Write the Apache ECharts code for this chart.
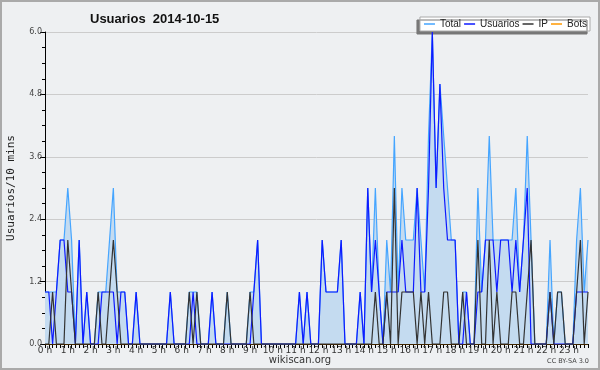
<!DOCTYPE html>
<html>
<head>
<meta charset="utf-8">
<script src="https://cdn.jsdelivr.net/npm/echarts@6/dist/echarts.min.js"></script>
<style>
body { margin: 0; background: #eef0f2; }
#chart { width: 600px; height: 370px; }
</style>
</head>
<body>
<div id="chart"></div>
<script>
var hourLabels = ['0 h', '1 h', '2 h', '3 h', '4 h', '5 h', '6 h', '7 h', '8 h', '9 h', '10 h', '11 h',
    '12 h', '13 h', '14 h', '15 h', '16 h', '17 h', '18 h', '19 h', '20 h', '21 h', '22 h', '23 h'];

// one value per 10 minutes, 144 per day
var total = [
    1, 1, 1, 1, 2, 2, 3, 2, 0, 2, 0, 1,
    0, 0, 1, 1, 1, 2, 3, 1, 1, 1, 0, 0,
    1, 0, 0, 0, 0, 0, 0, 0, 0, 1, 0, 0,
    0, 0, 1, 1, 1, 0, 0, 0, 1, 0, 0, 0,
    1, 0, 0, 0, 0, 0, 1, 1, 2, 0, 0, 0,
    0, 0, 0, 0, 0, 0, 0, 1, 0, 1, 0, 0,
    0, 2, 1, 1, 1, 1, 2, 0, 0, 0, 0, 1,
    0, 3, 1, 3, 1, 0, 2, 1, 4, 1, 3, 2,
    2, 2, 3, 2, 1, 4, 6, 3, 5, 4, 3, 2,
    2, 0, 1, 1, 0, 0, 3, 1, 2, 4, 2, 2,
    2, 2, 2, 2, 3, 1, 2, 4, 2, 0, 0, 0,
    0, 2, 0, 1, 1, 0, 0, 0, 2, 3, 1, 2
];
var usuarios = [
    1, 1, 0, 1, 2, 2, 1, 1, 0, 2, 0, 1,
    0, 0, 0, 1, 1, 1, 1, 0, 1, 1, 0, 0,
    1, 0, 0, 0, 0, 0, 0, 0, 0, 1, 0, 0,
    0, 0, 0, 1, 0, 0, 0, 0, 1, 0, 0, 0,
    0, 0, 0, 0, 0, 0, 0, 1, 2, 0, 0, 0,
    0, 0, 0, 0, 0, 0, 0, 1, 0, 1, 0, 0,
    0, 2, 1, 1, 1, 1, 2, 0, 0, 0, 0, 1,
    0, 3, 1, 2, 1, 0, 1, 1, 1, 1, 2, 1,
    1, 1, 3, 1, 1, 3, 6, 3, 5, 3, 2, 2,
    2, 0, 0, 1, 0, 0, 1, 1, 2, 2, 2, 1,
    2, 2, 2, 1, 2, 1, 2, 3, 0, 0, 0, 0,
    0, 1, 0, 0, 0, 0, 0, 0, 1, 1, 1, 1
];
var ip = [
    0, 0, 1, 0, 0, 0, 2, 1, 0, 0, 0, 0,
    0, 0, 1, 0, 0, 1, 2, 1, 0, 0, 0, 0,
    0, 0, 0, 0, 0, 0, 0, 0, 0, 0, 0, 0,
    0, 0, 1, 0, 1, 0, 0, 0, 0, 0, 0, 0,
    1, 0, 0, 0, 0, 0, 1, 0, 0, 0, 0, 0,
    0, 0, 0, 0, 0, 0, 0, 0, 0, 0, 0, 0,
    0, 0, 0, 0, 0, 0, 0, 0, 0, 0, 0, 0,
    0, 0, 0, 1, 0, 0, 1, 0, 3, 0, 1, 1,
    1, 1, 0, 1, 0, 1, 0, 0, 0, 1, 1, 0,
    0, 0, 1, 0, 0, 0, 2, 0, 0, 2, 0, 1,
    0, 0, 0, 1, 1, 0, 0, 1, 2, 0, 0, 0,
    0, 1, 0, 1, 1, 0, 0, 0, 1, 2, 0, 1
];
var bots = [
    0, 0, 0, 0, 0, 0, 0, 0, 0, 0, 0, 0,
    0, 0, 0, 0, 0, 0, 0, 0, 0, 0, 0, 0,
    0, 0, 0, 0, 0, 0, 0, 0, 0, 0, 0, 0,
    0, 0, 0, 0, 0, 0, 0, 0, 0, 0, 0, 0,
    0, 0, 0, 0, 0, 0, 0, 0, 0, 0, 0, 0,
    0, 0, 0, 0, 0, 0, 0, 0, 0, 0, 0, 0,
    0, 0, 0, 0, 0, 0, 0, 0, 0, 0, 0, 0,
    0, 0, 0, 0, 0, 0, 0, 0, 0, 0, 0, 0,
    0, 0, 0, 0, 0, 0, 0, 0, 0, 0, 0, 0,
    0, 0, 0, 0, 0, 0, 0, 0, 0, 0, 0, 0,
    0, 0, 0, 0, 0, 0, 0, 0, 0, 0, 0, 0,
    0, 0, 0, 0, 0, 0, 0, 0, 0, 0, 0, 0
];

// category per 10 min slot, label only on the hour
var slots = [];
hourLabels.forEach(function (h) {
    slots.push(h);
    for (var k = 0; k < 5; k++) slots.push('');
});

var chart = echarts.init(document.getElementById('chart'));

function lineSeries(name, data, color, z) {
    return {
        name: name,
        type: 'line',
        data: data,
        symbol: 'none',
        z: z,
        lineStyle: { color: color, width: 1.2 },
        itemStyle: { color: color }
    };
}

var totalSeries = lineSeries('Total', total, '#45a5ff', 3);
totalSeries.areaStyle = { color: '#c4dbf0', opacity: 1 };

var option = {
    animation: false,
    backgroundColor: '#eef0f2',
    title: {
        text: 'Usuarios  2014-10-15',
        left: 85,
        top: 8,
        textStyle: { fontFamily: 'Liberation Sans', fontSize: 13, fontWeight: 'bold', color: '#111' }
    },
    legend: {
        data: ['Total', 'Usuarios', 'IP', 'Bots'],
        right: 10,
        top: 17,
        padding: [2, 3, 2, 4],
        itemGap: 3,
        itemWidth: 11,
        itemHeight: 1.5,
        icon: 'rect',
        backgroundColor: '#ffffff',
        borderColor: '#aaaaaa',
        borderWidth: 1,
        shadowColor: '#777777',
        shadowBlur: 0,
        shadowOffsetX: -3,
        shadowOffsetY: 3,
        textStyle: { fontFamily: 'Liberation Sans', fontSize: 10, color: '#222' }
    },
    grid: { left: 45, right: 12, top: 32, bottom: 26, outerBoundsMode: 'none' },
    xAxis: {
        type: 'category',
        boundaryGap: false,
        data: slots,
        axisLine: { lineStyle: { color: '#000', width: 1 } },
        axisTick: { interval: 0, length: 4, lineStyle: { color: '#000' } },
        axisLabel: {
            interval: 0,
            margin: 2,
            fontFamily: 'DejaVu Sans',
            fontSize: 9,
            color: '#333'
        },
        splitLine: { show: false }
    },
    yAxis: {
        type: 'value',
        min: 0,
        max: 6,
        interval: 1.2,
        name: 'Usuarios/10 mins',
        nameLocation: 'middle',
        nameRotate: 90,
        nameGap: 28,
        nameTextStyle: { fontFamily: 'DejaVu Sans Mono', fontSize: 11, color: '#222' },
        axisLine: { show: true, lineStyle: { color: '#000', width: 1 } },
        axisTick: { show: true, length: 5, lineStyle: { color: '#000' } },
        minorTick: { show: true, splitNumber: 4, length: 3, lineStyle: { color: '#000' } },
        axisLabel: {
            margin: 3,
            fontFamily: 'DejaVu Sans',
            fontSize: 8,
            color: '#444',
            formatter: function (v) { return v.toFixed(1); }
        },
        splitLine: { lineStyle: { color: '#cccccc', width: 1 } }
    },
    graphic: [
        {
            type: 'text',
            left: 'center',
            top: 355,
            style: { text: 'wikiscan.org', fontFamily: 'DejaVu Sans', fontSize: 10, fill: '#333' }
        },
        {
            type: 'text',
            right: 11,
            top: 358,
            style: { text: 'CC BY-SA 3.0', fontFamily: 'DejaVu Sans', fontSize: 6.5, fill: '#444' }
        },
        {
            type: 'rect',
            silent: true,
            shape: { x: 1, y: 1, width: 598, height: 368 },
            style: { fill: 'none', stroke: '#aaaaaa', lineWidth: 2 }
        }
    ],
    series: [
        lineSeries('Bots', bots, '#ff9900', 2),
        totalSeries,
        lineSeries('Usuarios', usuarios, '#0d1aff', 4),
        lineSeries('IP', ip, '#333333', 5)
    ]
};

chart.setOption(option);
</script>
</body>
</html>
